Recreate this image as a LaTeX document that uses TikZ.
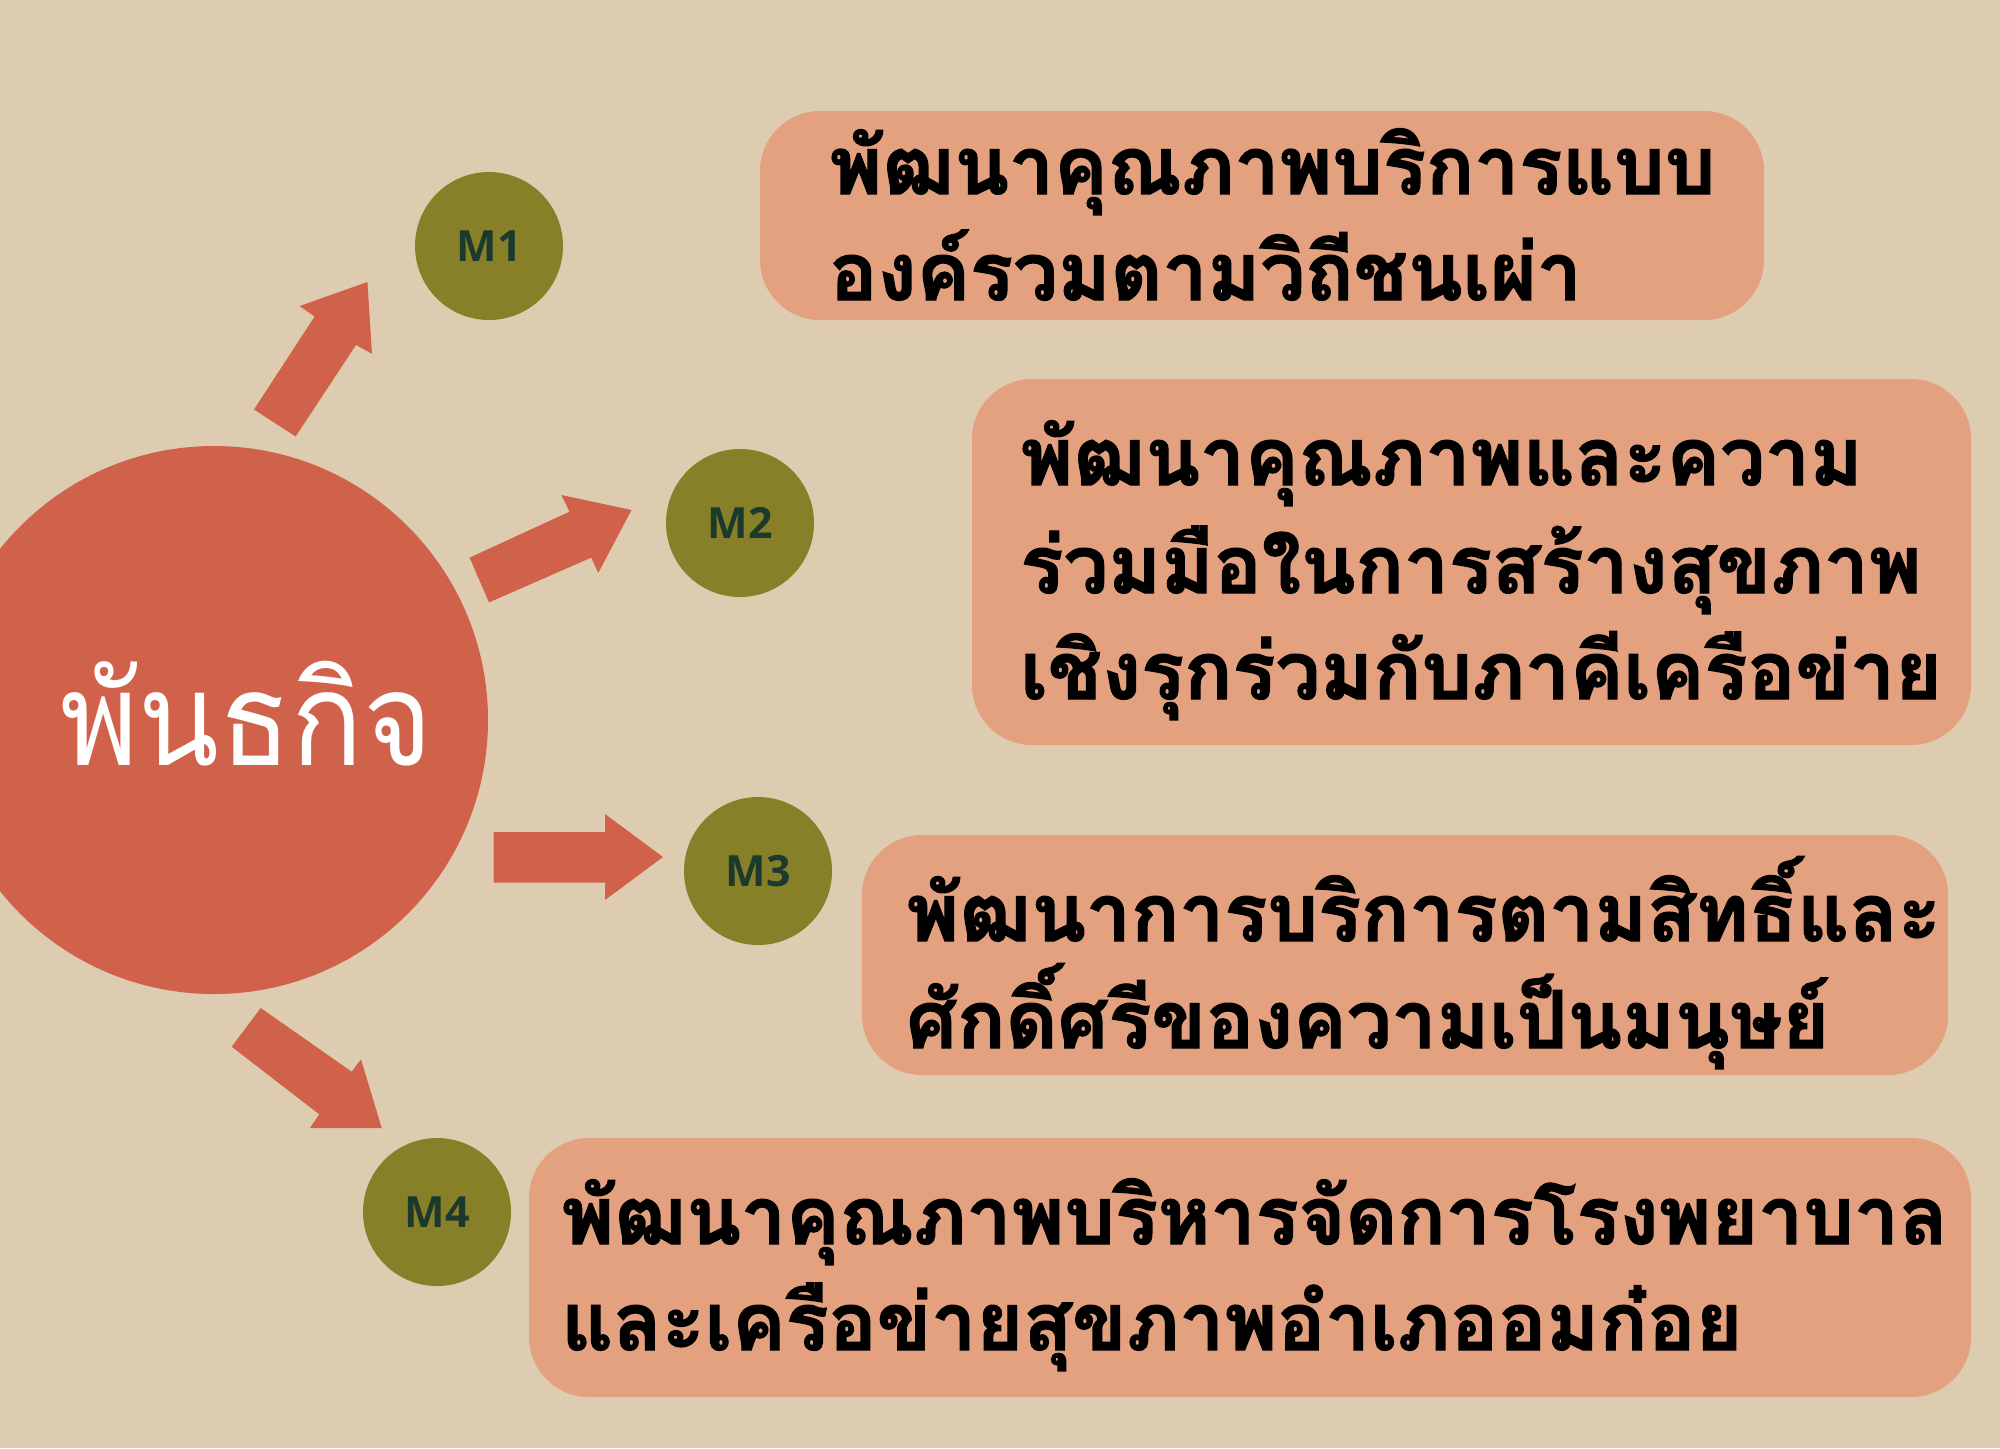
\documentclass[tikz,border=0pt]{standalone}
\usepackage{fontspec}
\newfontfamily\thaibold[Script=Thai,BoldFeatures={FakeBold=1.6}]{Loma}
\newfontfamily\thaireg[Script=Thai,FakeStretch=0.91]{Loma}
\newfontfamily\labelfont{Open Sans}
\definecolor{bgc}{HTML}{DDCCB0}
\definecolor{redc}{HTML}{D0614A}
\definecolor{olivec}{HTML}{878029}
\definecolor{boxc}{HTML}{E3A17F}
\definecolor{labc}{HTML}{1C3A2C}
\begin{document}
\begin{tikzpicture}[x=0.5pt,y=-0.5pt,
  mcircle/.style={circle,fill=olivec,minimum size=74pt,inner sep=0pt,font=\labelfont\bfseries\fontsize{21.5}{21.5}\selectfont,text=labc},
  blockarrow/.style={fill=redc},
  itembox/.style={fill=boxc,rounded corners=30pt},
  itemtext/.style={anchor=base west,inner sep=0pt,font=\thaibold\bfseries\fontsize{40}{40}\selectfont,text=black}]
\fill[bgc] (0,0) rectangle (2000,1448);
\useasboundingbox (0,0) rectangle (2000,1448);
% central circle
\fill[redc] (214,720) circle[radius=137pt];
\node[anchor=base west,inner sep=0pt,text=white,font=\thaireg\fontsize{65}{65}\selectfont] (main) at (60,765) {พันธกิจ};
% M circles
\node[mcircle] (m1) at (489,246) {M1};
\node[mcircle] (m2) at (740,523) {M2};
\node[mcircle] (m3) at (758,871) {M3};
\node[mcircle] (m4) at (437,1212) {M4};
% arrows
\fill[blockarrow] (254,409.5) -- (314.6,316.5) -- (299.7,306) -- (367.4,282) -- (372,353.8) -- (356,345) -- (295.6,436.5) -- cycle;
\fill[blockarrow] (469.6,557.6) -- (569.5,511.7) -- (561.4,495) -- (631.5,510) -- (598.2,573) -- (591.3,557.6) -- (489,602.4) -- cycle;
\fill[blockarrow] (493.7,832) -- (605,832) -- (605,814) -- (663,857) -- (605,900) -- (605,882.5) -- (493.7,882.5) -- cycle;
\fill[blockarrow] (260.7,1008) -- (351.7,1071.7) -- (361,1059.3) -- (381.7,1128) -- (310,1128) -- (319.3,1114.3) -- (231.7,1046.7) -- cycle;
% boxes
\fill[itembox] (760,111) rectangle (1764,320);
\fill[itembox] (972,379) rectangle (1971,745);
\fill[itembox] (862,835) rectangle (1948,1075);
\fill[itembox] (529,1138) rectangle (1971,1397);
% texts
\node[itemtext] (t1a) at (829,194) {พัฒนาคุณภาพบริการแบบ};
\node[itemtext] (t1b) at (829,300) {องค์รวมตามวิถีชนเผ่า};
\node[itemtext] (t2a) at (1020,485) {พัฒนาคุณภาพและความ};
\node[itemtext] (t2b) at (1020,593) {ร่วมมือในการสร้างสุขภาพ};
\node[itemtext] (t2c) at (1020,699) {เชิงรุกร่วมกับภาคีเครือข่าย};
\node[itemtext] (t3a) at (906,941) {พัฒนาการบริการตามสิทธิ์และ};
\node[itemtext] (t3b) at (906,1048) {ศักดิ์ศรีของความเป็นมนุษย์};
\node[itemtext] (t4a) at (561,1244) {พัฒนาคุณภาพบริหารจัดการโรงพยาบาล};
\node[itemtext] (t4b) at (561,1350) {และเครือข่ายสุขภาพอำเภออมก๋อย};
\end{tikzpicture}
\end{document}
